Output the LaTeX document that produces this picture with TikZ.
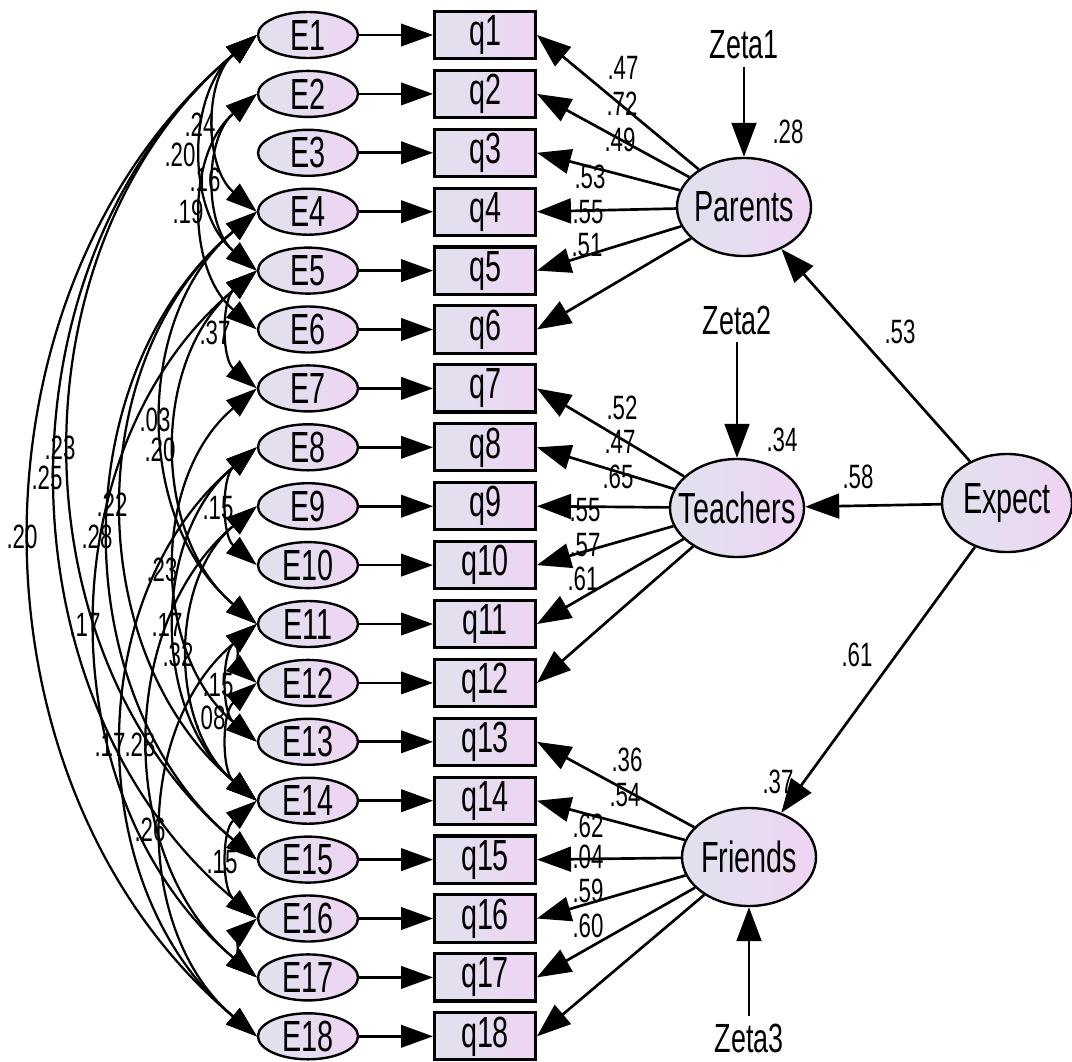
\documentclass[tikz,border=0pt]{standalone}
\usepackage{fontspec}
\setmainfont{Liberation Sans}[FakeStretch=0.66]
\usetikzlibrary{arrows.meta, shapes.geometric, positioning}
\definecolor{shadeL}{RGB}{224,226,238}
\definecolor{shadeR}{RGB}{238,212,243}

\tikzset{
  err/.style={ellipse, draw, line width=1.7pt, left color=shadeL, right color=shadeR,
    minimum width=2.5cm, minimum height=1.15cm, inner sep=0pt, font=\fontsize{31}{32}\selectfont},
  qbox/.style={rectangle, draw, line width=2.2pt, left color=shadeL, right color=shadeR,
    minimum width=2.52cm, minimum height=1.18cm, inner sep=0pt, font=\fontsize{31}{32}\selectfont},
  latent/.style={ellipse, draw, line width=1.7pt, left color=shadeL, right color=shadeR,
    minimum width=3.35cm, minimum height=2.45cm, inner sep=0pt,
    label={[font=\fontsize{31}{32}\selectfont]center:#1}},
  zeta/.style={inner sep=5pt, font=\fontsize{29}{30}\selectfont},
  lbl/.style={inner sep=0pt, font=\fontsize{24}{26}\selectfont},
  load/.style={-{Triangle[length=0.85cm, width=0.62cm]}, line width=1.9pt},
  eload/.style={-{Triangle[length=0.8cm, width=0.56cm]}, line width=1.9pt},
  cov/.style={{Triangle[length=0.78cm, width=0.52cm]}-{Triangle[length=0.78cm, width=0.52cm]}, line width=1.6pt},
}

\begin{document}
\begin{tikzpicture}[x=0.025cm, y=-0.025cm]
    \useasboundingbox (0,0) rectangle (1072,1061);

    % Error terms and observed items
    \foreach \i in {1,...,18}{
        \node[err] (E\i) at (308, {35+58.9*(\i-1)}) {E\i};
        \node[qbox] (q\i) at (485, {35+58.9*(\i-1)}) {q\i};
        \draw[eload] (E\i) -- (q\i);
    }

    % Latent factors
    \node[latent=Parents] (Parents) at (744,207) {};
    \node[latent=Teachers] (Teachers) at (737,508) {};
    \node[latent=Friends] (Friends) at (749,857) {};
    \node[latent=Expect, minimum width=3.25cm] (Expect) at (1007,503) {};

    % Disturbances
    \node[zeta] (Zeta1) at (744,45) {Zeta1};
    \node[zeta] (Zeta2) at (737,320) {Zeta2};
    \node[zeta] (Zeta3) at (749,1038) {Zeta3};
    \draw[load] (Zeta1) -- (Parents);
    \draw[load] (Zeta2) -- (Teachers);
    \draw[load] (Zeta3) -- (Friends);

    % Squared multiple correlations
    \node[lbl] (r1) at (788,132) {.28};
    \node[lbl] (r2) at (782,440) {.34};
    \node[lbl] (r3) at (778,782) {.37};

    % Structural paths
    \draw[load] (Expect) -- (Parents);
    \draw[load] (Expect) -- (Teachers);
    \draw[load] (Expect) -- (Friends);
    \node[lbl] (b1) at (900,332) {.53};
    \node[lbl] (b2) at (858,477) {.58};
    \node[lbl] (b3) at (857,655) {.61};

    % Factor loadings
    \foreach \f/\i/\t/\x/\y in {Parents/1/.47/623/68, Parents/2/.72/622/104,
        Parents/3/.49/620/140, Parents/4/.53/590/177, Parents/5/.55/588/212,
        Parents/6/.51/587/245, Teachers/7/.52/622/408, Teachers/8/.47/620/442,
        Teachers/9/.65/618/477, Teachers/10/.55/585/510, Teachers/11/.57/585/545,
        Teachers/12/.61/583/579, Friends/13/.36/627/760, Friends/14/.54/625/795,
        Friends/15/.62/588/826, Friends/16/.04/588/857, Friends/17/.59/588/891,
        Friends/18/.60/588/926}{
        \draw[load] (\f) -- (q\i.east);
        \node[lbl] (w\i) at (\x,\y) {\t};
    }

    % Error covariances
    \foreach \a/\b/\t/\x/\y in {1/4/.24/200/125, 1/5/.20/180/155, 2/5/.16/205/180,
        2/6/.19/188/212, 5/7/.37/215/333, 4/11/.03/155/420, 5/11/.20/160/450,
        8/10/.15/218/508, 1/15/.23/60/448, 1/16/.25/47/478, 1/18/.20/22/537,
        4/14/.22/112/505, 4/15/.28/97/537, 7/13/.23/162/570, 5/17/.17/85/625,
        8/14/.17/167/625, 9/14/.32/178/655, 11/13/.15/218/685, 12/14/.08/210/718,
        8/18/.17/110/745, 9/17/.28/140/745, 11/18/.26/150/830, 14/16/.15/222/862}{
        \draw[cov] (E\a.west) to[bend right=50] (E\b.west);
        \node[lbl] (c\a-\b) at (\x,\y) {\t};
    }
    \draw[cov] (E11.west) to[bend right=50] (E12.west);
    \draw[cov] (E16.west) to[bend right=50] (E17.west);

\end{tikzpicture}
\end{document}
